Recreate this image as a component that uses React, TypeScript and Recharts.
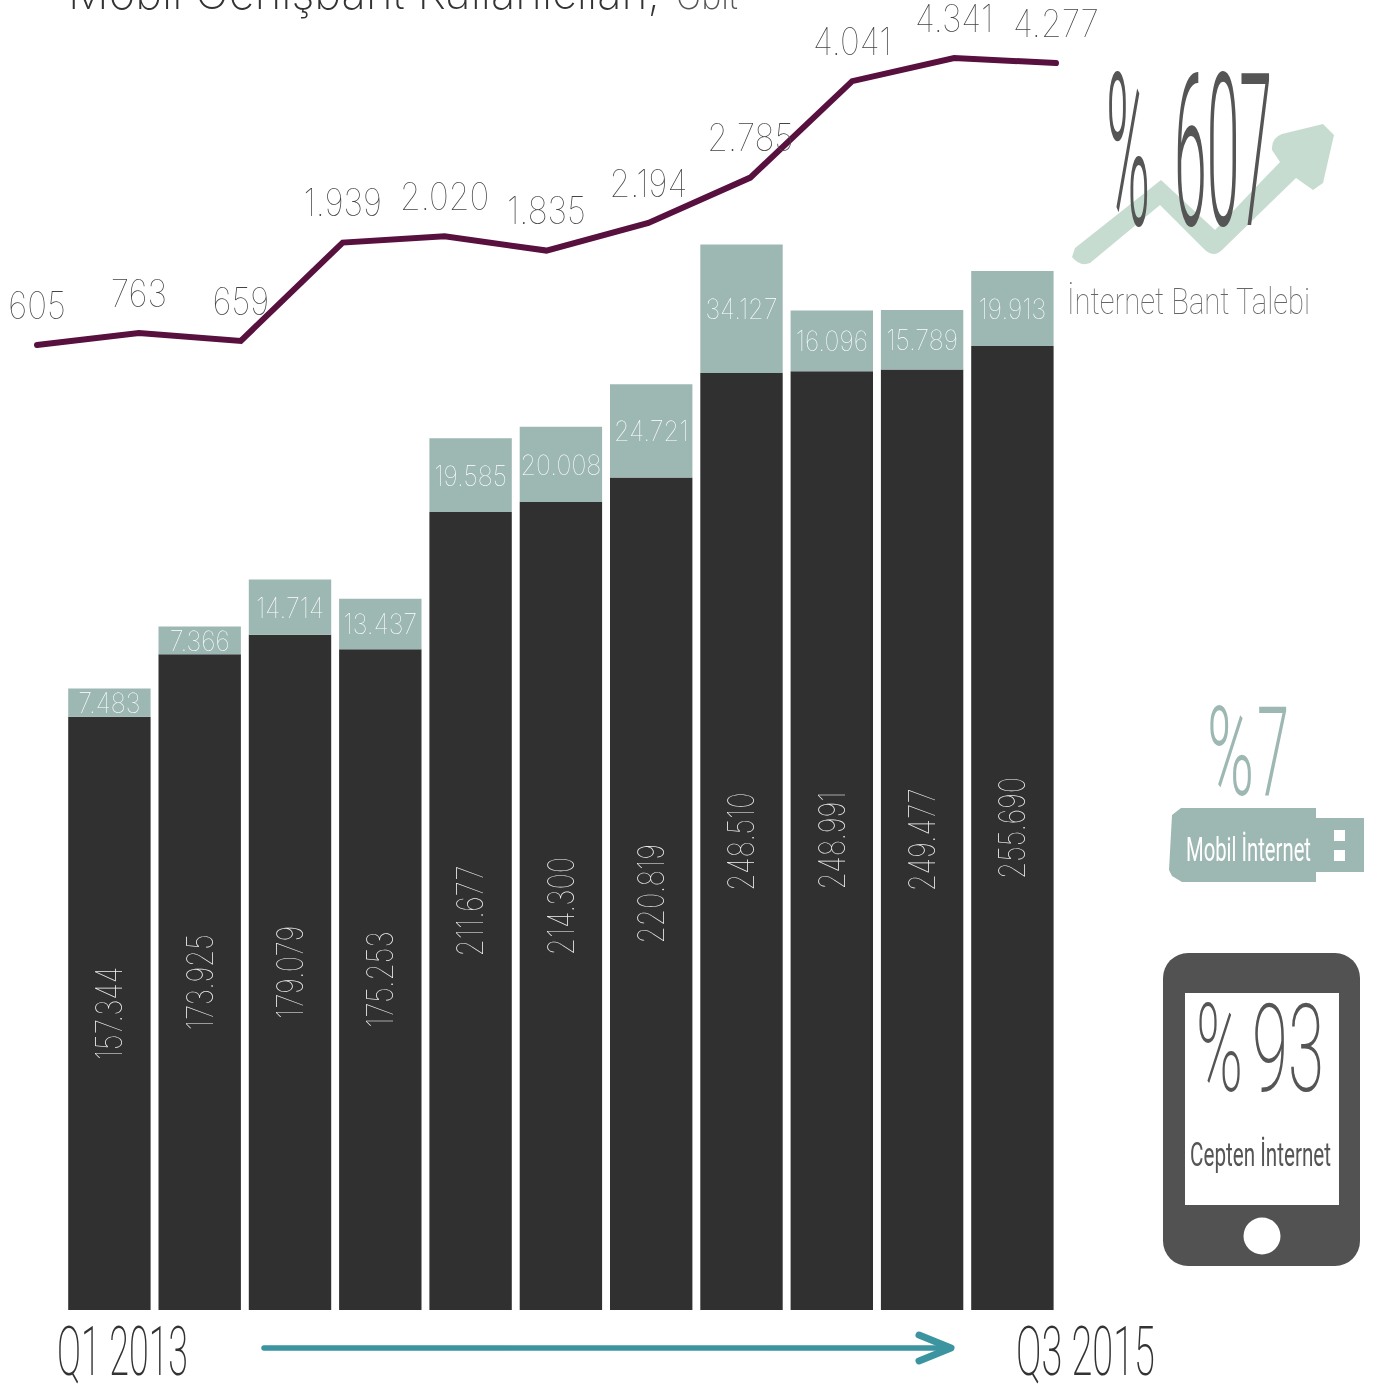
import { BarChart, Bar, LineChart, Line, XAxis, YAxis, LabelList } from 'recharts';

const quarters = ['Q1 2013', 'Q2 2013', 'Q3 2013', 'Q4 2013', 'Q1 2014', 'Q2 2014', 'Q3 2014', 'Q4 2014', 'Q1 2015', 'Q2 2015', 'Q3 2015'];
const fixedUsers = [157344, 173925, 179079, 175253, 211677, 214300, 220819, 248510, 248991, 249477, 255690];
const mobileUsers = [7483, 7366, 14714, 13437, 19585, 20008, 24721, 34127, 16096, 15789, 19913];
const bandwidth = [605, 763, 659, 1939, 2020, 1835, 2194, 2785, 4041, 4341, 4277];

const barData = quarters.map((q, i) => ({ q, fixed: fixedUsers[i], mobile: mobileUsers[i] }));
const lineData = quarters.map((q, i) => ({ q, gbit: bandwidth[i] }));

const W = 1387;
const H = 1384;
const FONT = 'Inter, Roboto, sans-serif';
const NARROW = 'Roboto, "Liberation Sans", sans-serif';
// willChange keeps text on its own layer, so it gets grey antialiasing
const layer = { position: 'absolute', left: 0, top: 0, willChange: 'transform' } as const;

const fmt = (v: number) => String(v).replace(/\B(?=(\d{3})+$)/g, '.');

const makeLabel = (size: number, fill: string, angle: number, squeeze: number, dy = 0) => (props: any) => {
  const box = props.viewBox ?? props;
  const cx = box.x + (box.width ?? 0) / 2;
  const cy = box.y + (box.height ?? 0) / 2 + dy;
  return (
    <text
      transform={`translate(${cx} ${cy}) rotate(${angle}) scale(${squeeze} 1)`}
      textAnchor="middle"
      dominantBaseline="central"
      fontFamily={FONT}
      fontWeight={100}
      fontSize={size}
      fill={fill}
    >
      {fmt(Number(props.value))}
    </text>
  );
};

const Squeezed = ({ x, y, w, size, fill, weight = 300, children }: any) => (
  <text
    x={x}
    y={y}
    textLength={w}
    lengthAdjust="spacingAndGlyphs"
    fontFamily={NARROW}
    fontSize={size}
    fontWeight={weight}
    fill={fill}
  >
    {children}
  </text>
);

function Overlay() {
  return (
    <svg width={W} height={H} style={layer}>
      <text x={68} y={9} textLength={592} lengthAdjust="spacingAndGlyphs" fontFamily={FONT} fontWeight={200} fontSize={46} fill="#333">
        Mobil Genişbant Kullanıcıları,
      </text>
      <text x={676} y={9} textLength={62} lengthAdjust="spacingAndGlyphs" fontFamily={FONT} fontWeight={200} fontSize={34} fill="#555">
        Gbit
      </text>

      <path
        d="M1075 248 L1161 180 L1215 230 L1280 162 L1272 150 Q1271 138 1282 134 L1323 124 L1334 135 L1323 183 L1313 190 L1296 178 L1222 250 Q1214 258 1205 250 L1160 205 L1090 263 Q1080 267 1072 257 Z"
        fill="#c7dcd1"
      />
      <Squeezed x={1106} y={225} w={44} size={214} fill="#555" weight={300}>%</Squeezed>
      <Squeezed x={1174} y={225} w={98} size={214} fill="#555" weight={300}>607</Squeezed>
      <Squeezed x={1067} y={314} w={243} size={36} fill="#666" weight={100}>İnternet Bant Talebi</Squeezed>

      <Squeezed x={1207} y={795} w={47} size={124} fill="#9db8b2" weight={300}>%</Squeezed>
      <Squeezed x={1257} y={795} w={32} size={124} fill="#9db8b2" weight={300}>7</Squeezed>
      <path d="M1172 815 L1181 808 L1316 808 L1316 818 L1364 818 L1364 872 L1316 872 L1316 882 L1182 882 L1172 876 L1169 870 Z" fill="#9db8b2" />
      <rect x={1334} y={830} width={11} height={11} fill="#fff" />
      <rect x={1334} y={850} width={11} height={11} fill="#fff" />
      <Squeezed x={1186} y={861} w={125} size={34} fill="#fff" weight={400}>Mobil İnternet</Squeezed>

      <rect x={1163} y={953} width={197} height={313} rx={25} fill="#525252" />
      <rect x={1185} y={993} width={154} height={212} fill="#fff" />
      <circle cx={1262} cy={1236} r={18.5} fill="#fff" />
      <Squeezed x={1196} y={1091} w={47} size={122} fill="#555" weight={200}>%</Squeezed>
      <Squeezed x={1252} y={1091} w={72} size={122} fill="#555" weight={200}>93</Squeezed>
      <Squeezed x={1190} y={1166} w={141} size={34} fill="#555" weight={400}>Cepten İnternet</Squeezed>

      <Squeezed x={57} y={1375} w={131} size={69} fill="#333" weight={200}>Q1 2013</Squeezed>
      <Squeezed x={1016} y={1375} w={139} size={69} fill="#333" weight={200}>Q3 2015</Squeezed>

      <path d="M264 1348 L950 1348" fill="none" stroke="#3c94a0" strokeWidth={5.5} strokeLinecap="round" />
      <path d="M919 1335 L951 1348 L919 1361" fill="none" stroke="#3c94a0" strokeWidth={7} strokeLinecap="round" strokeLinejoin="round" />
    </svg>
  );
}

export default function App() {
  return (
    <div style={{ position: 'absolute', left: 0, top: 0, width: W, height: H, background: '#fff', overflow: 'hidden' }}>
      <div style={layer}>
        <BarChart width={W} height={H} data={barData} margin={{ top: 179, right: 329.5, bottom: 74, left: 64.2 }} barSize={82.4}>
          <XAxis dataKey="q" hide />
          <YAxis hide domain={[0, 300000]} />
          <Bar dataKey="fixed" stackId="a" fill="#303030" isAnimationActive={false}>
            <LabelList dataKey="fixed" content={makeLabel(36, '#f0f0f0', -90, 0.77)} />
          </Bar>
          <Bar dataKey="mobile" stackId="a" fill="#9db8b2" isAnimationActive={false}>
            <LabelList dataKey="mobile" content={makeLabel(28, '#ffffff', 0, 0.9)} />
          </Bar>
        </BarChart>
      </div>
      <div style={layer}>
        <LineChart width={W} height={H} data={lineData} margin={{ top: 7.5, right: 331, bottom: 992.5, left: 37 }}>
          <XAxis dataKey="q" hide />
          <YAxis hide domain={[0, 5000]} />
          <Line dataKey="gbit" stroke="#58103f" strokeWidth={6} dot={false} strokeLinecap="round" isAnimationActive={false}>
            <LabelList dataKey="gbit" content={makeLabel(38, '#444444', 0, 0.88, -40)} />
          </Line>
        </LineChart>
      </div>
      <Overlay />
    </div>
  );
}
